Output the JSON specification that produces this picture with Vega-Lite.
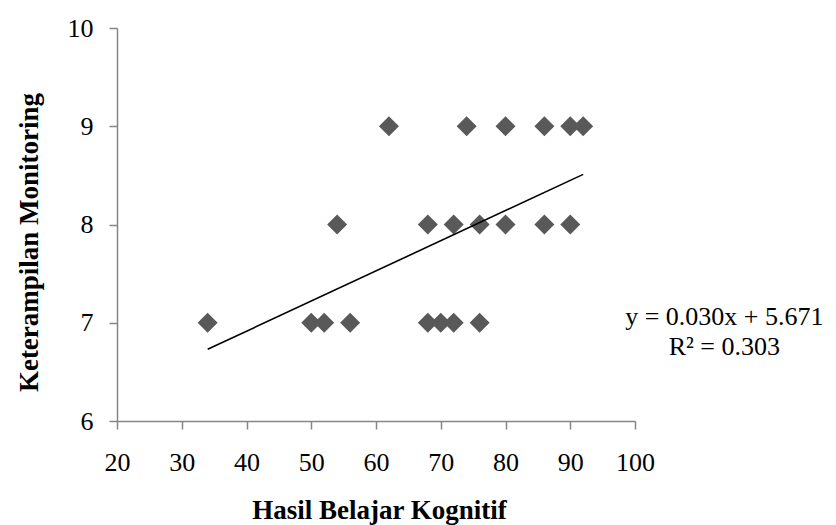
{
  "$schema": "https://vega.github.io/schema/vega-lite/v6.json",
  "width": 518,
  "height": 393,
  "autosize": "none",
  "padding": {"left": 117, "top": 28, "right": 201, "bottom": 104},
  "background": "white",
  "config": {
    "view": {"stroke": null},
    "font": "Liberation Serif"
  },
  "datasets": {
    "points": [
      {"hasil": 34, "ket": 7}, {"hasil": 50, "ket": 7}, {"hasil": 52, "ket": 7}, {"hasil": 56, "ket": 7},
      {"hasil": 68, "ket": 7}, {"hasil": 70, "ket": 7}, {"hasil": 72, "ket": 7}, {"hasil": 76, "ket": 7},
      {"hasil": 54, "ket": 8}, {"hasil": 68, "ket": 8}, {"hasil": 72, "ket": 8}, {"hasil": 76, "ket": 8},
      {"hasil": 80, "ket": 8}, {"hasil": 86, "ket": 8}, {"hasil": 90, "ket": 8},
      {"hasil": 62, "ket": 9}, {"hasil": 74, "ket": 9}, {"hasil": 80, "ket": 9}, {"hasil": 86, "ket": 9},
      {"hasil": 90, "ket": 9}, {"hasil": 92, "ket": 9}
    ],
    "trend": [
      {"hasil": 34, "ket": 6.73},
      {"hasil": 92, "ket": 8.51}
    ],
    "notes": [
      {"hasil": 113.8, "ket": 6.977, "label": "y = 0.030x + 5.671"},
      {"hasil": 113.8, "ket": 6.672, "label": "R² = 0.303"}
    ]
  },
  "layer": [
    {
      "data": {"name": "points"},
      "mark": {"type": "point", "shape": "diamond", "filled": true, "size": 400, "color": "#595959", "opacity": 1},
      "encoding": {
        "x": {
          "field": "hasil", "type": "quantitative",
          "scale": {"domain": [20, 100], "nice": false, "zero": false},
          "axis": {
            "title": "Hasil Belajar Kognitif",
            "values": [20, 30, 40, 50, 60, 70, 80, 90, 100],
            "format": "d",
            "grid": false,
            "domainColor": "#868686", "domainWidth": 1.5,
            "tickColor": "#868686", "tickWidth": 1.5, "tickSize": 8,
            "labelFont": "Liberation Serif", "labelFontSize": 26, "labelColor": "#000000",
            "labelBaseline": "alphabetic", "labelPadding": 41,
            "labelFlush": false, "labelOverlap": false,
            "titleFont": "Liberation Serif", "titleFontSize": 27, "titleFontWeight": "bold", "titleColor": "#000000",
            "titleBaseline": "alphabetic", "titleY": 97, "titleX": 262
          }
        },
        "y": {
          "field": "ket", "type": "quantitative",
          "scale": {"domain": [6, 10], "nice": false, "zero": false},
          "axis": {
            "title": "Keterampilan Monitoring",
            "values": [6, 7, 8, 9, 10],
            "format": "d",
            "grid": false,
            "domainColor": "#868686", "domainWidth": 1.5,
            "tickColor": "#868686", "tickWidth": 1.5, "tickSize": 8,
            "labelFont": "Liberation Serif", "labelFontSize": 26, "labelColor": "#000000",
            "labelPadding": 16, "labelFlush": false, "labelOverlap": false,
            "titleFont": "Liberation Serif", "titleFontSize": 27, "titleFontWeight": "bold", "titleColor": "#000000",
            "titleX": -74, "titleY": 214, "titleBaseline": "bottom", "titleAngle": -90, "titleAlign": "center"
          }
        }
      }
    },
    {
      "data": {"name": "trend"},
      "mark": {"type": "line", "color": "#000000", "strokeWidth": 1.6},
      "encoding": {
        "x": {"field": "hasil", "type": "quantitative"},
        "y": {"field": "ket", "type": "quantitative"}
      }
    },
    {
      "data": {"name": "notes"},
      "mark": {"type": "text", "font": "Liberation Serif", "fontSize": 26, "align": "center", "baseline": "alphabetic", "color": "#000000"},
      "encoding": {
        "x": {"field": "hasil", "type": "quantitative"},
        "y": {"field": "ket", "type": "quantitative"},
        "text": {"field": "label"}
      }
    }
  ]
}
